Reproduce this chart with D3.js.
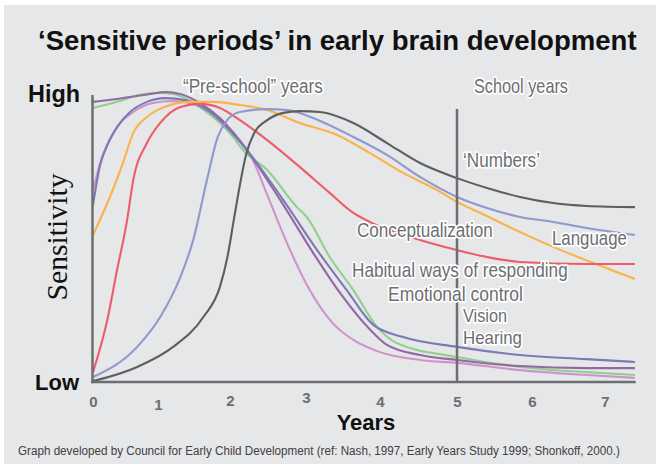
<!DOCTYPE html>
<html><head><meta charset="utf-8">
<script src="https://cdn.jsdelivr.net/npm/d3@7"></script>
<style>body{margin:0;background:#fff}svg{display:block}</style>
</head><body><svg id="c" width="656" height="464"></svg>
<script>
// ---- data ----
const years = [0,1,2,3,4,5,6,7];
const tickLabels = ["0","1","2","3","4","5","6","7"];
const seriesNames = ["Hearing","Vision","Emotional control","Habitual ways of responding","Language","Conceptualization","Symbols","Numbers"];
const seriesColors = ["#cf93cb","#90d08e","#9467a5","#7c79b6","#fbb24a","#ee5c6c","#8f98cf","#5d5e60"];
// x in years, y in relative sensitivity (0 = low, 100 = high)
const mauveX = [0,0.11,0.37,0.62,0.92,1.21,1.49,1.76,2.04,2.3,2.49,2.79,3.05,3.36,3.64,4.0,4.52,5,5.84,6.75,7.41];
const mauveY = [66.2,75.5,87.9,93.1,96.2,96.9,95.9,92.1,86.2,76.6,64.5,45.5,31.7,20.3,14.5,10.3,7.6,6.6,4.1,2.4,1.4];
const greenX = [0,0.37,0.72,0.98,1.21,1.58,2.04,2.17,2.49,2.88,3.01,3.32,3.64,3.96,4.22,5,5.84,6.75,7.41];
const greenY = [94.5,96.6,99.0,99.7,99.3,94.8,84.5,80.0,73.1,60.3,56.9,43.1,31.7,19.0,13.4,8.6,5.2,3.4,2.4];
const purpleX = [0,0.37,0.88,1.1,1.31,1.58,1.86,2.22,2.66,3.09,3.46,3.91,4.09,4.52,5,5.84,6.75,7.41];
const purpleY = [96.6,97.6,99.3,100,99.3,96.2,91.0,80.0,62.8,44.8,30.7,16.9,12.8,9.3,7.6,5.5,4.8,4.8];
const violetX = [0,0.11,0.22,0.37,0.57,0.83,1.1,1.38,1.72,2.22,2.7,3.15,3.55,3.91,4.3,5,5.84,6.75,7.41];
const violetY = [61.0,74.8,81.7,87.9,93.1,96.6,97.9,97.2,93.1,80.0,62.8,45.5,31.7,19.7,15.5,12.1,9.3,7.9,6.9];
const orangeX = [0,0.26,0.46,0.62,0.83,1.13,1.44,1.76,2.13,2.49,2.92,3.42,3.86,4.3,4.74,5,5.4,5.67,6.29,6.84,7.41];
const orangeY = [50.7,63.8,75.5,85.9,91.4,95.2,96.6,96.6,95.5,93.8,89.3,85.2,79.0,72.1,66.2,62.1,57.2,53.8,46.6,41.0,35.5];
const redX = [0,0.22,0.37,0.52,0.62,0.83,1.03,1.31,1.58,1.86,2.13,2.49,2.92,3.32,3.64,3.86,4.52,5,5.4,5.84,6.75,7.41];
const redY = [3.4,21.4,38.6,55.2,69.7,82.4,89.3,94.8,95.9,94.5,90.3,83.4,74.1,65.2,58.3,55.2,49.0,45.5,43.1,41.4,40.7,40.7];
const blueX = [0,0.68,1.03,1.31,1.49,1.68,1.83,1.96,2.13,2.49,2.75,3.19,3.64,4.09,4.52,5,5.4,5.84,6.29,6.75,7.41];
const blueY = [1.7,12.1,22.4,36.2,49.0,69.7,84.5,90.3,93.1,94.1,93.8,90.0,84.5,78.3,70.7,63.8,60.0,56.9,55.2,53.1,50.7];
const grayX = [0,0.68,1.21,1.63,1.86,1.97,2.05,2.13,2.21,2.32,2.49,2.7,2.92,3.19,3.64,4.09,4.52,5,5.4,5.84,6.29,6.75,7.41];
const grayY = [0.3,5.2,12.1,22.4,32.8,43.8,55.9,67.9,78.3,85.9,90.3,92.8,93.4,93.1,89.3,82.4,75.5,70.3,66.9,63.8,61.7,60.7,60.3];
const seriesX = [mauveX,greenX,purpleX,violetX,orangeX,redX,blueX,grayX];
const seriesY = [mauveY,greenY,purpleY,violetY,orangeY,redY,blueY,grayY];

const curveLabels = ["\u2018Numbers\u2019","Conceptualization","Language","Habitual ways of responding","Emotional control","Vision","Hearing"];
const periodLabels = ["\u201CPre-school\u201D years","School years"];
const schoolStart = 5;
const xEnd = 7.42;

// ---- drawing ----
const svg = d3.select("#c");
const GRAY = "#6d6e71";
svg.append("rect").attr("x",4).attr("y",5).attr("width",652).attr("height",459).attr("fill","#e6e7e8");

const x = d3.scaleLinear().domain(years).range([93,158,230,306,380,457,532,605]);
const y = d3.scaleLinear().domain([0,100]).range([382,92]);

// helper: text compressed horizontally to a target width via transform
function fitText(parent, str, tx, ty, width, attrs){
  const t = parent.append("text").attr("x",0).attr("y",0).text(str);
  Object.entries(attrs).forEach(([k,v])=>t.attr(k,v));
  const w = t.node().getComputedTextLength();
  const s = width / w;
  t.attr("transform",`translate(${tx},${ty}) scale(${s},1)`);
  return t;
}

fitText(svg,"\u2018Sensitive periods\u2019 in early brain development",38,50,599,
  {"font-family":"Liberation Sans, Arial, sans-serif","font-weight":"bold","font-size":27,"fill":"#111"});

// lines
const line = d3.line().x(d=>x(d[0])).y(d=>y(d[1])).curve(d3.curveMonotoneX);
const g = svg.append("g");
seriesX.forEach((xs,i)=>{
  const pts = xs.map((v,j)=>[v, seriesY[i][j]]);
  g.append("path").attr("d", line(pts)).attr("fill","none")
    .attr("stroke", seriesColors[i]).attr("stroke-width",2.1).attr("stroke-linejoin","round");
});

// axes
svg.append("line").attr("x1",x(0)-0.5).attr("x2",x(0)-0.5).attr("y1",95).attr("y2",y(0)+1.2)
  .attr("stroke",GRAY).attr("stroke-width",2.5);
svg.append("line").attr("x1",x(0)-1.7).attr("x2",x(xEnd)).attr("y1",y(0)).attr("y2",y(0))
  .attr("stroke",GRAY).attr("stroke-width",2.5);
svg.append("line").attr("x1",x(schoolStart)).attr("x2",x(schoolStart)).attr("y1",109).attr("y2",y(0))
  .attr("stroke",GRAY).attr("stroke-width",2.5);

const nudge = [0,3,-1,-4,0,0,0,0];
const ax = svg.append("g").attr("transform",`translate(0,${y(0)})`)
  .call(d3.axisBottom(x).tickValues(years).tickSize(0).tickPadding(14).tickFormat((d,i)=>tickLabels[i]));
ax.select(".domain").remove();
ax.selectAll("text").attr("font-family","Liberation Sans, Arial, sans-serif").attr("font-weight","bold")
  .attr("font-size",15).attr("fill",GRAY).attr("dy",(d,i)=>(0.71+nudge[i]/15)+"em");

svg.append("text").attr("x",366).attr("y",430).attr("text-anchor","middle")
  .attr("font-family","Liberation Sans, Arial, sans-serif").attr("font-weight","bold").attr("font-size",22)
  .attr("fill","#111").text("Years");
fitText(svg,"High",28,102,52,{"font-family":"Liberation Sans, Arial, sans-serif","font-weight":"bold","font-size":23,"fill":"#111"});
fitText(svg,"Low",35,390,44,{"font-family":"Liberation Sans, Arial, sans-serif","font-weight":"bold","font-size":22,"fill":"#111"});
svg.append("text").attr("transform","translate(67,237) rotate(-90)").attr("text-anchor","middle")
  .attr("textLength",127).attr("lengthAdjust","spacingAndGlyphs")
  .attr("font-family","Liberation Serif, Times New Roman, serif").attr("font-size",30)
  .attr("fill","#111").text("Sensitivity");

// halo labels
const lab = [
  [periodLabels[0],183,86,140,20],[periodLabels[1],474,86,94,20],
  [curveLabels[0],463,160,77,20],[curveLabels[1],357,230,136,20],[curveLabels[2],552,238,75,20],
  [curveLabels[3],352,270,216,20],[curveLabels[4],388,294,135,20],[curveLabels[5],463,316,44,18],[curveLabels[6],463,338,59,18]
];
lab.forEach(([t,lx,ly,w,fs])=>{
  fitText(svg,t,lx,ly+fs*0.35,w,{"font-family":"Liberation Sans, Arial, sans-serif","font-size":fs,
    "fill":GRAY,"stroke":"#fff","stroke-width":3.5,"stroke-linejoin":"round","paint-order":"stroke"});
});

fitText(svg,"Graph developed by Council for Early Child Development (ref: Nash, 1997, Early Years Study 1999; Shonkoff, 2000.)",
  18,455,602,{"font-family":"Liberation Sans, Arial, sans-serif","font-size":13.5,"fill":"#414042"});
</script></body></html>
